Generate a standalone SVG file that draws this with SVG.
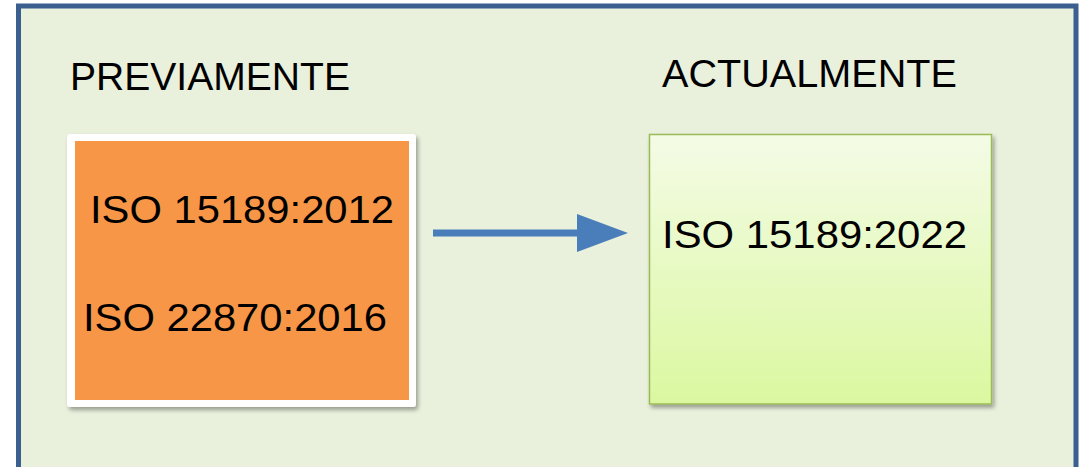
<svg xmlns="http://www.w3.org/2000/svg" width="1079" height="467" viewBox="0 0 1079 467">
  <defs>
    <linearGradient id="greenFill" x1="0" y1="0" x2="0" y2="1">
      <stop offset="0" stop-color="#f4fbe6"/>
      <stop offset="1" stop-color="#dbf8a0"/>
    </linearGradient>
    <filter id="shadow" x="-10%" y="-10%" width="125%" height="125%">
      <feGaussianBlur in="SourceAlpha" stdDeviation="2"/>
      <feOffset dx="2" dy="3" result="b"/>
      <feComponentTransfer><feFuncA type="linear" slope="0.35"/></feComponentTransfer>
      <feMerge><feMergeNode/><feMergeNode in="SourceGraphic"/></feMerge>
    </filter>
  </defs>
  <style>
    .t { font-family: "Liberation Sans", Arial, sans-serif; font-size: 39px; fill: #000; }
  </style>

  <rect width="1079" height="467" fill="#ffffff"/>
  <!-- outer panel -->
  <rect x="18.5" y="6" width="1057.5" height="470" fill="#e9f0dc" stroke="#3b5f8e" stroke-width="5"/>

  <text class="t" x="70" y="90" textLength="280" lengthAdjust="spacingAndGlyphs">PREVIAMENTE</text>
  <text class="t" x="662" y="87" textLength="295" lengthAdjust="spacingAndGlyphs">ACTUALMENTE</text>

  <g id="previous">
    <rect x="67" y="134" width="349" height="273" rx="3" fill="#ffffff" filter="url(#shadow)"/>
    <rect x="75" y="141" width="334" height="259" fill="#f79646"/>
    <text class="t" x="90" y="223" textLength="304" lengthAdjust="spacingAndGlyphs">ISO 15189:2012</text>
    <text class="t" x="83" y="331" textLength="304" lengthAdjust="spacingAndGlyphs">ISO 22870:2016</text>
  </g>

  <g id="current">
    <rect x="649.5" y="134.5" width="342" height="269.5" fill="url(#greenFill)" stroke="#9bbb59" stroke-width="1.5" filter="url(#shadow)"/>
    <text class="t" x="662" y="248" textLength="305" lengthAdjust="spacingAndGlyphs">ISO 15189:2022</text>
  </g>

  <g id="connectors">
    <rect x="433" y="229.5" width="145" height="7" fill="#4a7ebb"/>
    <polygon points="577,214 628,233 577,252" fill="#4a7ebb"/>
  </g>
</svg>
